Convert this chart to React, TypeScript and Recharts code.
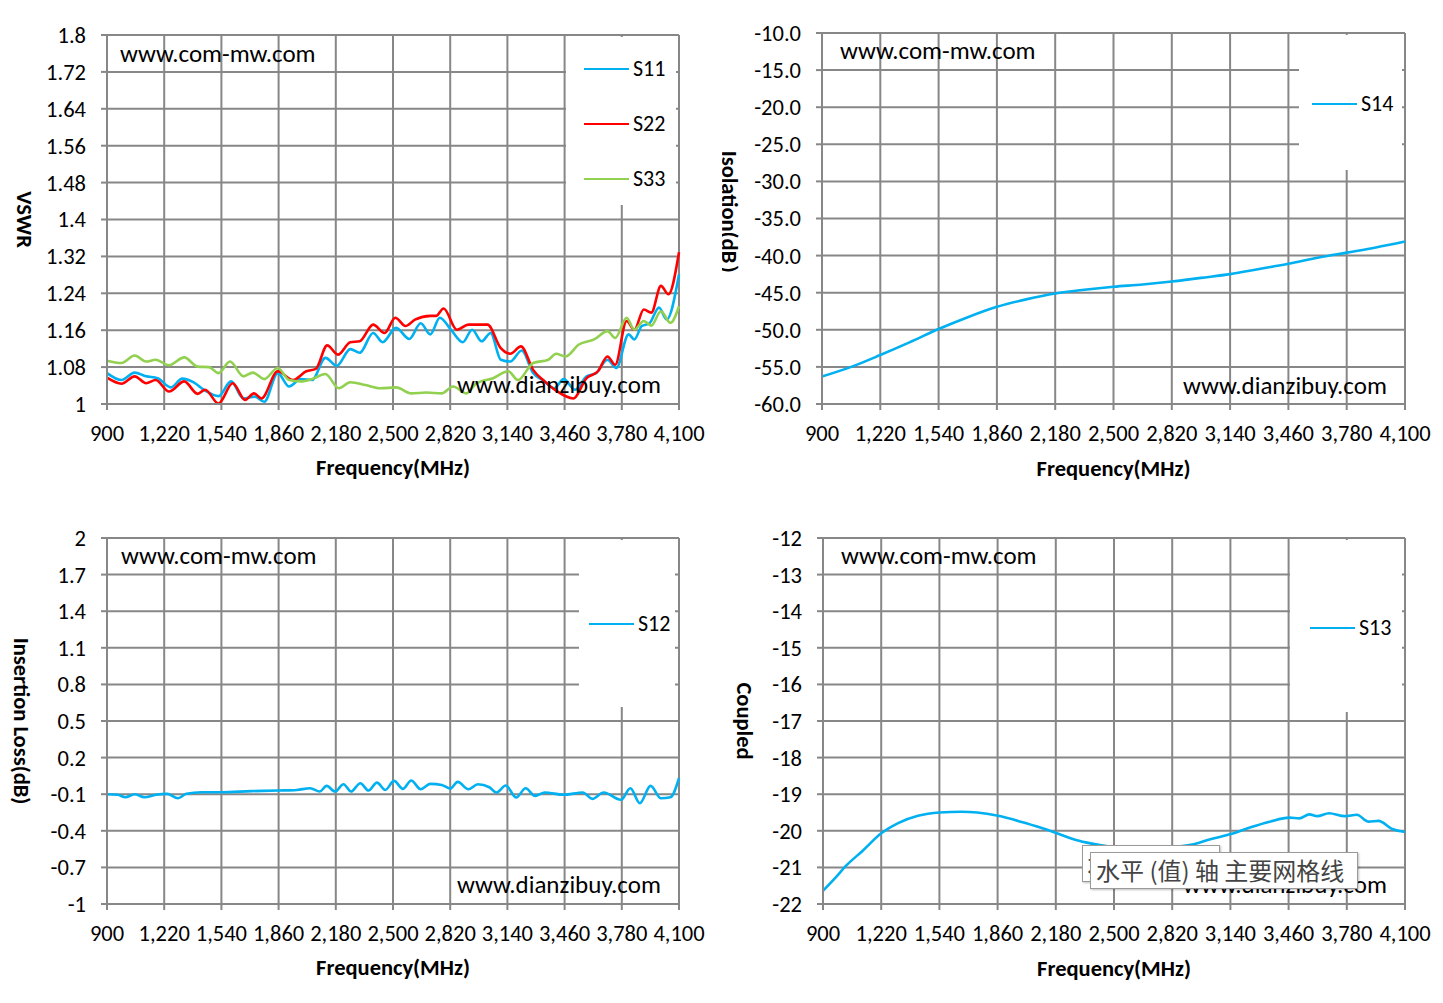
import React from 'react';
import { LineChart, Line, XAxis, YAxis, CartesianGrid, Legend } from 'recharts';

// frequency axis shared by all four panels
const FREQ_TICKS = [900, 1220, 1540, 1860, 2180, 2500, 2820, 3140, 3460, 3780, 4100];

// VSWR panel
const VSWR_TICKS = [1, 1.08, 1.16, 1.24, 1.32, 1.4, 1.48, 1.56, 1.64, 1.72, 1.8];
const S11_FREQ = [900, 981, 1055, 1119, 1183, 1257, 1321, 1385, 1449, 1524, 1594, 1663, 1727, 1780, 1855, 1919, 1983, 2047, 2122, 2186, 2261, 2314, 2389, 2442, 2517, 2591, 2655, 2709, 2762, 2826, 2890, 2943, 2996, 3046, 3103, 3156, 3220, 3284, 3348, 3401, 3455, 3519, 3583, 3636, 3700, 3749, 3818, 3850, 3892, 3935, 3988, 4031, 4100];
const S11 = [1.067, 1.052, 1.068, 1.06, 1.056, 1.036, 1.055, 1.047, 1.029, 1.017, 1.049, 1.012, 1.016, 1.005, 1.067, 1.038, 1.054, 1.052, 1.1, 1.083, 1.119, 1.111, 1.154, 1.134, 1.165, 1.141, 1.175, 1.151, 1.187, 1.16, 1.134, 1.161, 1.136, 1.154, 1.096, 1.092, 1.116, 1.067, 1.049, 1.034, 1.054, 1.031, 1.06, 1.067, 1.096, 1.078, 1.151, 1.14, 1.169, 1.175, 1.209, 1.183, 1.281];
const S22_FREQ = [900, 981, 1055, 1119, 1172, 1247, 1332, 1407, 1449, 1524, 1603, 1673, 1722, 1764, 1855, 1940, 2015, 2068, 2132, 2192, 2261, 2314, 2389, 2453, 2513, 2570, 2623, 2709, 2741, 2783, 2858, 2922, 3029, 3103, 3156, 3216, 3284, 3348, 3412, 3508, 3583, 3647, 3700, 3743, 3807, 3850, 3903, 3945, 3999, 4041, 4100];
const S22 = [1.057, 1.044, 1.06, 1.045, 1.052, 1.027, 1.049, 1.022, 1.031, 1.001, 1.045, 1.009, 1.023, 1.012, 1.071, 1.052, 1.071, 1.076, 1.127, 1.107, 1.134, 1.136, 1.172, 1.154, 1.187, 1.169, 1.183, 1.191, 1.191, 1.207, 1.161, 1.172, 1.172, 1.121, 1.109, 1.125, 1.074, 1.049, 1.029, 1.012, 1.056, 1.071, 1.103, 1.085, 1.18, 1.161, 1.205, 1.198, 1.256, 1.238, 1.329];
const S33_FREQ = [900, 981, 1055, 1119, 1172, 1247, 1332, 1407, 1471, 1524, 1588, 1663, 1716, 1780, 1855, 1919, 1983, 2047, 2122, 2197, 2261, 2346, 2431, 2517, 2602, 2687, 2772, 2836, 2911, 2964, 3060, 3145, 3199, 3284, 3369, 3412, 3465, 3540, 3625, 3700, 3743, 3807, 3850, 3903, 3945, 3999, 4052, 4100];
const S33 = [1.094, 1.089, 1.105, 1.092, 1.096, 1.084, 1.101, 1.081, 1.08, 1.067, 1.092, 1.06, 1.068, 1.054, 1.078, 1.052, 1.049, 1.054, 1.065, 1.034, 1.047, 1.041, 1.034, 1.036, 1.023, 1.025, 1.023, 1.038, 1.023, 1.044, 1.056, 1.071, 1.052, 1.089, 1.096, 1.109, 1.103, 1.129, 1.14, 1.158, 1.143, 1.187, 1.161, 1.18, 1.17, 1.201, 1.176, 1.212];

// isolation panel
const ISO_TICKS = [-60, -55, -50, -45, -40, -35, -30, -25, -20, -15, -10];
const S14_FREQ = [900, 1060, 1220, 1380, 1540, 1700, 1860, 2020, 2180, 2340, 2500, 2660, 2820, 2980, 3140, 3300, 3460, 3620, 3780, 3940, 4100];
const S14 = [-56.3, -55.0, -53.4, -51.7, -49.9, -48.3, -46.9, -45.9, -45.1, -44.6, -44.2, -43.9, -43.5, -43.0, -42.5, -41.8, -41.1, -40.3, -39.6, -38.9, -38.1];

// insertion loss panel
const IL_TICKS = [-1, -0.7, -0.4, -0.1, 0.2, 0.5, 0.8, 1.1, 1.4, 1.7, 2];
const S12_FREQ = [900, 960, 1002, 1056, 1109, 1173, 1237, 1297, 1344, 1429, 1540, 1706, 1860, 1962, 2037, 2090, 2129, 2176, 2223, 2265, 2317, 2363, 2410, 2457, 2506, 2555, 2602, 2655, 2709, 2773, 2820, 2862, 2922, 2975, 3039, 3078, 3131, 3189, 3242, 3295, 3349, 3455, 3562, 3615, 3679, 3775, 3828, 3881, 3941, 3999, 4052, 4100];
const S12 = [-0.1, -0.105, -0.125, -0.1, -0.125, -0.105, -0.097, -0.133, -0.097, -0.084, -0.084, -0.075, -0.07, -0.065, -0.051, -0.078, -0.032, -0.078, -0.018, -0.078, -0.01, -0.07, -0.005, -0.065, 0.009, -0.056, 0.012, -0.059, -0.015, -0.024, -0.054, 0.001, -0.059, -0.018, -0.043, -0.086, -0.029, -0.127, -0.051, -0.114, -0.086, -0.105, -0.086, -0.138, -0.086, -0.146, -0.051, -0.174, -0.032, -0.133, -0.125, 0.031];

// coupled panel
const CPL_TICKS = [-22, -21, -20, -19, -18, -17, -16, -15, -14, -13, -12];
const S13_FREQ = [900, 965, 1030, 1117, 1222, 1313, 1422, 1541, 1661, 1748, 1863, 1987, 2095, 2182, 2291, 2378, 2500, 2660, 2820, 2943, 3030, 3143, 3247, 3356, 3465, 3519, 3574, 3617, 3682, 3770, 3835, 3900, 3954, 4030, 4100];
const S13 = [-21.64, -21.3, -20.94, -20.55, -20.06, -19.79, -19.59, -19.5, -19.48, -19.5, -19.59, -19.75, -19.91, -20.06, -20.25, -20.35, -20.45, -20.5, -20.45, -20.36, -20.23, -20.09, -19.91, -19.75, -19.64, -19.66, -19.55, -19.6, -19.52, -19.6, -19.56, -19.75, -19.73, -19.95, -20.03];

const FONT = 'Carlito, Lato, "Open Sans", sans-serif';
const GRID = '#878787';
const BLUE = '#00B0F0';
const RED = '#FF0000';
const GREEN = '#92D050';

const W = 721;
const H = 500;

const toPoints = (freq: number[], values: number[]) => freq.map((f, i) => ({ f, v: values[i] }));
const fmtFreq = (v: number) => v.toLocaleString('en-US');

type Series = { name: string; color: string; freq: number[]; values: number[] };
type Box = { x: number; y: number; w: number; h: number };

interface PanelProps {
  left: number;
  top: number;
  plot: Box;
  yTicks: number[];
  yFormat?: (v: number) => string;
  yTitle: string;
  yTitleX: number;
  xTitleBase: number;
  series: Series[];
  legend: Box & { rows: number[]; lineX: number };
}

const Panel: React.FC<PanelProps> = ({ left, top, plot, yTicks, yFormat, yTitle, yTitleX, xTitleBase, series, legend }) => {
  const yAxisWidth = plot.x - left;
  const xAxisHeight = top + H - (plot.y + plot.h);
  const margin = { top: plot.y - top, right: left + W - (plot.x + plot.w), bottom: 0, left: 0 };
  const tickStyle = { fill: '#000', fontSize: 22.5, fontFamily: FONT };
  const titleStyle = { fill: '#000', fontSize: 22.5, fontWeight: 700, fontFamily: FONT };

  // custom legend: one row per series, placed like the Excel legend box
  const renderLegend = (props: any) => (
    <div style={{ position: 'relative', width: legend.w, height: legend.h, background: '#fff' }}>
      {(props.payload || []).map((entry: any, i: number) => (
        <div
          key={entry.value}
          style={{ position: 'absolute', left: legend.lineX, top: legend.rows[i] - 14, height: 28, display: 'flex', alignItems: 'center' }}
        >
          <div style={{ width: 45, height: 2, background: entry.color }} />
          <span style={{ marginLeft: 4, fontSize: 22, fontFamily: FONT, color: '#000', lineHeight: '28px' }}>{entry.value}</span>
        </div>
      ))}
    </div>
  );

  return (
    <div style={{ position: 'absolute', left, top }}>
      <LineChart width={W} height={H} margin={margin}>
        <CartesianGrid stroke={GRID} strokeWidth={2} />
        <XAxis
          type="number"
          dataKey="f"
          domain={[900, 4100]}
          ticks={FREQ_TICKS}
          interval={0}
          tickFormatter={fmtFreq}
          height={xAxisHeight}
          axisLine={{ stroke: GRID, strokeWidth: 2 }}
          tickLine={{ stroke: GRID, strokeWidth: 2 }}
          tickSize={6}
          tickMargin={15}
          tick={tickStyle}
          label={{ value: 'Frequency(MHz)', position: 'insideBottom', offset: top + H - xTitleBase, ...titleStyle }}
        />
        <YAxis
          type="number"
          domain={[yTicks[0], yTicks[yTicks.length - 1]]}
          ticks={yTicks}
          interval={0}
          tickFormatter={yFormat}
          width={yAxisWidth}
          axisLine={{ stroke: GRID, strokeWidth: 2 }}
          tickLine={{ stroke: GRID, strokeWidth: 2 }}
          tickSize={6}
          tickMargin={15}
          tick={tickStyle}
          label={{ value: yTitle, position: 'center', angle: 90, dx: yTitleX - left - yAxisWidth / 2, ...titleStyle }}
        />
        <Legend
          layout="vertical"
          align="center"
          verticalAlign="middle"
          wrapperStyle={{ left: legend.x - left, top: legend.y - top, width: legend.w, height: legend.h }}
          content={renderLegend}
        />
        {series.map((s) => (
          <Line
            key={s.name}
            name={s.name}
            data={toPoints(s.freq, s.values)}
            dataKey="v"
            type="monotone"
            stroke={s.color}
            strokeWidth={2.6}
            dot={false}
            isAnimationActive={false}
          />
        ))}
      </LineChart>
    </div>
  );
};

const Mark: React.FC<{ x: number; y: number; text: string }> = ({ x, y, text }) => (
  <div style={{ position: 'absolute', left: x, top: y, fontSize: 25, fontFamily: FONT, color: '#000', whiteSpace: 'nowrap', lineHeight: '28px' }}>
    {text}
  </div>
);

const App: React.FC = () => (
  <div style={{ position: 'absolute', left: 0, top: 0, width: 1443, height: 1003, background: '#fff', overflow: 'hidden' }}>
    <Panel
      left={0}
      top={0}
      plot={{ x: 107, y: 35, w: 572, h: 369 }}
      yTicks={VSWR_TICKS}
      yTitle="VSWR"
      yTitleX={25}
      xTitleBase={475}
      series={[
        { name: 'S11', color: BLUE, freq: S11_FREQ, values: S11 },
        { name: 'S22', color: RED, freq: S22_FREQ, values: S22 },
        { name: 'S33', color: GREEN, freq: S33_FREQ, values: S33 },
      ]}
      legend={{ x: 566, y: 37, w: 110, h: 168, rows: [32, 87, 142], lineX: 18 }}
    />
    <Panel
      left={722}
      top={0}
      plot={{ x: 822, y: 33, w: 583, h: 371 }}
      yTicks={ISO_TICKS}
      yFormat={(v) => v.toFixed(1)}
      yTitle="Isolation(dB）"
      yTitleX={730}
      xTitleBase={476}
      series={[{ name: 'S14', color: BLUE, freq: S14_FREQ, values: S14 }]}
      legend={{ x: 1299, y: 35, w: 103, h: 135, rows: [69], lineX: 13 }}
    />
    <Panel
      left={0}
      top={503}
      plot={{ x: 107, y: 538, w: 572, h: 366 }}
      yTicks={IL_TICKS}
      yTitle="Insertion Loss(dB)"
      yTitleX={22}
      xTitleBase={975}
      series={[{ name: 'S12', color: BLUE, freq: S12_FREQ, values: S12 }]}
      legend={{ x: 579, y: 540, w: 96, h: 167, rows: [84], lineX: 10 }}
    />
    <Panel
      left={722}
      top={503}
      plot={{ x: 823, y: 538, w: 582, h: 366 }}
      yTicks={CPL_TICKS}
      yTitle="Coupled"
      yTitleX={745}
      xTitleBase={976}
      series={[{ name: 'S13', color: BLUE, freq: S13_FREQ, values: S13 }]}
      legend={{ x: 1290, y: 540, w: 112, h: 172, rows: [88], lineX: 20 }}
    />

    <Mark x={120} y={40} text="www.com-mw.com" />
    <Mark x={457} y={371} text="www.dianzibuy.com" />
    <Mark x={840} y={37} text="www.com-mw.com" />
    <Mark x={1183} y={372} text="www.dianzibuy.com" />
    <Mark x={121} y={542} text="www.com-mw.com" />
    <Mark x={457} y={871} text="www.dianzibuy.com" />
    <Mark x={841} y={542} text="www.com-mw.com" />
    <Mark x={1183} y={871} text="www.dianzibuy.com" />

    {/* Excel hover tooltip captured in the screenshot */}
    <div style={{ position: 'absolute', left: 1082, top: 845, width: 136, height: 35, background: '#fff', border: '1px solid #9a9a9a', boxShadow: '1px 1px 2px rgba(0,0,0,0.25)', overflow: 'hidden' }}>
      <span style={{ position: 'absolute', left: 4, top: 3, fontSize: 24, fontFamily: '"Noto Sans CJK SC", sans-serif', color: '#444', whiteSpace: 'nowrap', lineHeight: '28px' }}>水平 (值) 轴 主要网格线</span>
    </div>
    <div style={{ position: 'absolute', left: 1090, top: 852, width: 266, height: 35, background: '#fff', border: '1px solid #9a9a9a', boxShadow: '1px 1px 2px rgba(0,0,0,0.25)' }}>
      <span style={{ position: 'absolute', left: 5, top: 3, fontSize: 24, fontFamily: '"Noto Sans CJK SC", sans-serif', color: '#444', whiteSpace: 'nowrap', lineHeight: '28px' }}>水平 (值) 轴 主要网格线</span>
    </div>
  </div>
);

export default App;
